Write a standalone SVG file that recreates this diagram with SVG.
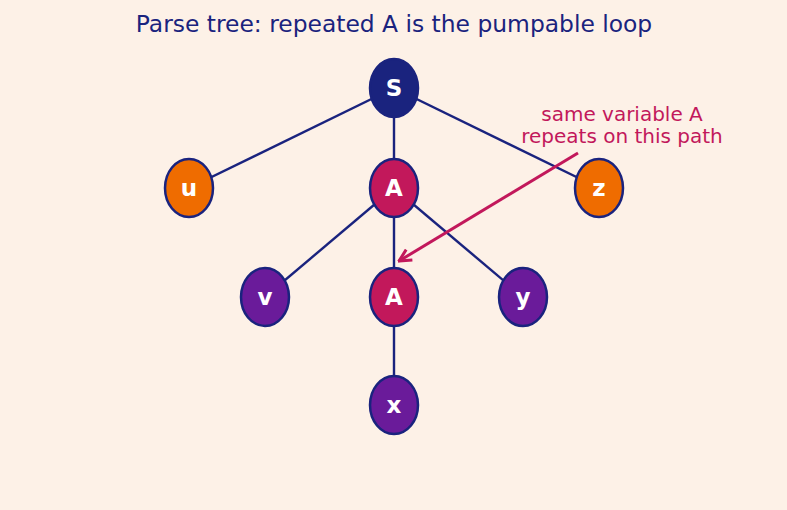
<svg xmlns="http://www.w3.org/2000/svg" width="787" height="510" viewBox="0 0 787 510">
<defs>
<style>
.node ellipse{stroke:#1a237e;stroke-width:2.5}
.node text{font-family:"DejaVu Sans",sans-serif;font-size:23px;font-weight:bold;fill:#ffffff;text-anchor:middle}
.edge{stroke:#1a237e;stroke-width:2.4;fill:none}
.title{font-family:"DejaVu Sans",sans-serif;font-size:23.4px;fill:#1a237e;text-anchor:middle}
.note{font-family:"DejaVu Sans",sans-serif;font-size:20px;fill:#c2185b;text-anchor:middle}
</style>
<marker id="ah" viewBox="0 0 10 10" refX="9" refY="5" markerWidth="5" markerHeight="5" orient="auto" markerUnits="strokeWidth">
<path d="M1,1 L9,5 L1,9" fill="none" stroke="#c2185b" stroke-width="2"/>
</marker>
</defs>
<rect width="787" height="510" fill="#fdf1e7"/>
<text class="title" x="394" y="32">Parse tree: repeated A is the pumpable loop</text>
<g id="connectors">
<line class="edge" x1="394" y1="88" x2="189" y2="188"/>
<line class="edge" x1="394" y1="88" x2="394" y2="188"/>
<line class="edge" x1="394" y1="88" x2="599" y2="188"/>
<line class="edge" x1="394" y1="188" x2="265" y2="297"/>
<line class="edge" x1="394" y1="188" x2="394" y2="297"/>
<line class="edge" x1="394" y1="188" x2="523" y2="297"/>
<line class="edge" x1="394" y1="297" x2="394" y2="405"/>
</g>
<g id="n_S" class="node"><ellipse cx="394" cy="88" rx="24" ry="29" fill="#1a237e"/><text x="394" y="96">S</text></g>
<g id="n_u" class="node"><ellipse cx="189" cy="188" rx="24" ry="29" fill="#ef6c00"/><text x="189" y="196">u</text></g>
<g id="n_A1" class="node"><ellipse cx="394" cy="188" rx="24" ry="29" fill="#c2185b"/><text x="394" y="196">A</text></g>
<g id="n_z" class="node"><ellipse cx="599" cy="188" rx="24" ry="29" fill="#ef6c00"/><text x="599" y="196">z</text></g>
<g id="n_v" class="node"><ellipse cx="265" cy="297" rx="24" ry="29" fill="#6a1b9a"/><text x="265" y="305">v</text></g>
<g id="n_A2" class="node"><ellipse cx="394" cy="297" rx="24" ry="29" fill="#c2185b"/><text x="394" y="305">A</text></g>
<g id="n_y" class="node"><ellipse cx="523" cy="297" rx="24" ry="29" fill="#6a1b9a"/><text x="523" y="305">y</text></g>
<g id="n_x" class="node"><ellipse cx="394" cy="405" rx="24" ry="29" fill="#6a1b9a"/><text x="394" y="413">x</text></g>
<g id="annotation">
<text class="note" x="622" y="121">same variable A</text>
<text class="note" x="622" y="143">repeats on this path</text>
<line x1="578" y1="153" x2="399" y2="261" stroke="#c2185b" stroke-width="3" marker-end="url(#ah)"/>
</g>
</svg>
